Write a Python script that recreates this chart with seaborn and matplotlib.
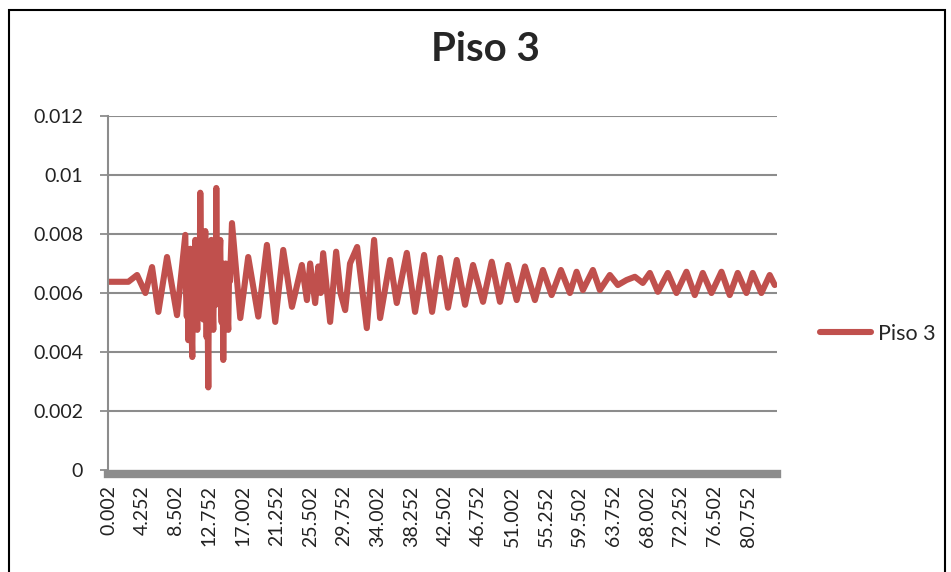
import pandas as pd
import numpy as np
import matplotlib.pyplot as plt
import seaborn as sns
from matplotlib.patches import Rectangle

# peaks and troughs (time s, displacement)
t = [0.0, 2.52, 3.62, 4.67, 5.51, 6.31, 7.40, 8.66, 9.71,
     9.80, 9.90, 10.00, 10.09, 10.16, 10.22, 10.34, 10.46, 10.59, 10.68, 10.78, 10.88, 10.97,
     11.04, 11.10, 11.22, 11.30, 11.40, 11.50, 11.60, 11.70, 11.80, 11.90, 11.98, 12.04,
     12.10, 12.23, 12.32, 12.40, 12.50, 12.61, 12.70, 12.80, 12.90, 12.99, 13.05, 13.10,
     13.24, 13.34, 13.45, 13.54, 13.62, 13.68, 13.75, 13.87, 13.94, 14.00, 14.12, 14.20,
     14.30, 14.40, 14.50, 14.60, 14.70, 14.80, 14.88, 15.00, 15.13, 15.25, 15.35, 15.60,
     16.65, 17.65, 18.92, 20.01, 21.06, 22.07, 23.17, 24.42, 25.06, 25.47,
     26.10, 26.50, 26.80, 27.11, 27.99, 28.75, 29.30, 29.89, 30.50, 31.40, 32.62, 33.54,
     34.30, 35.56, 36.40, 37.67, 38.71, 39.85, 40.86, 41.87, 42.87, 43.97, 45.02, 46.03,
     47.29, 48.39, 49.43, 50.44, 51.54, 52.58, 53.84, 54.85, 55.95, 57.12,
     58.26, 59.10, 59.90, 61.16, 62.04, 63.30, 64.31, 65.41, 66.46, 67.46,
     68.35, 69.36, 70.62, 71.71, 72.97, 74.02, 75.03, 76.13, 77.39, 78.43,
     79.44, 80.54, 81.33, 82.43, 83.48, 84.11]
piso3 = [0.00638, 0.00638, 0.00661, 0.00600, 0.00688, 0.00536, 0.00722, 0.00525, 0.00797,
         0.00600, 0.00520, 0.00720, 0.00440, 0.00620, 0.00700, 0.00750, 0.00520, 0.00383, 0.00650, 0.00560, 0.00720, 0.00780,
         0.00540, 0.00600, 0.00475, 0.00680, 0.00720, 0.00560, 0.00940, 0.00700, 0.00620, 0.00740, 0.00510, 0.00650,
         0.00700, 0.00810, 0.00600, 0.00450, 0.00620, 0.00280, 0.00700, 0.00560, 0.00720, 0.00780, 0.00540, 0.00620,
         0.00475, 0.00680, 0.00700, 0.00560, 0.00956, 0.00720, 0.00640, 0.00576, 0.00720, 0.00700, 0.00780, 0.00560,
         0.00500, 0.00700, 0.00373, 0.00680, 0.00560, 0.00700, 0.00644, 0.00540, 0.00475, 0.00700, 0.00640, 0.00837,
         0.00515, 0.00722, 0.00520, 0.00763, 0.00502, 0.00746, 0.00553, 0.00695, 0.00576, 0.00700,
         0.00566, 0.00690, 0.00600, 0.00735, 0.00502, 0.00740, 0.00600, 0.00542, 0.00700, 0.00756, 0.00481, 0.00780,
         0.00515, 0.00712, 0.00566, 0.00736, 0.00536, 0.00729, 0.00536, 0.00719, 0.00550, 0.00712, 0.00560, 0.00695,
         0.00570, 0.00706, 0.00570, 0.00695, 0.00576, 0.00690, 0.00576, 0.00678, 0.00593, 0.00678,
         0.00600, 0.00672, 0.00610, 0.00678, 0.00610, 0.00661, 0.00627, 0.00644, 0.00655, 0.00634,
         0.00668, 0.00604, 0.00668, 0.00600, 0.00672, 0.00593, 0.00668, 0.00600, 0.00672, 0.00593,
         0.00668, 0.00600, 0.00668, 0.00600, 0.00661, 0.00627]

xtick_vals = [0.002 + 4.25 * k for k in range(20)]
xtick_labels = ['0.002', '4.252', '8.502', '12.752', '17.002', '21.252', '25.502',
                '29.752', '34.002', '38.252', '42.502', '46.752', '51.002', '55.252',
                '59.502', '63.752', '68.002', '72.252', '76.502', '80.752']
ytick_vals = [0, 0.002, 0.004, 0.006, 0.008, 0.01, 0.012]
ytick_labels = ['0', '0.002', '0.004', '0.006', '0.008', '0.01', '0.012']

df = pd.DataFrame({'t': t, 'Piso 3': piso3})

sns.set_style('white')
plt.rcParams['font.family'] = ['Lato', 'DejaVu Sans']

fig = plt.figure(figsize=(9.51, 5.72), dpi=100)
ax = fig.add_axes([108 / 951, 1 - 470 / 572, (777 - 108) / 951, (470 - 116) / 572])

sns.lineplot(data=df, x='t', y='Piso 3', ax=ax, color='#C0504D', linewidth=4.4,
             label='Piso 3', solid_joinstyle='round', solid_capstyle='round')

# spines first: moving a spine resets the tick labels
for s in ['top', 'right']:
    ax.spines[s].set_visible(False)
ax.spines['left'].set_color('#8c8c8c')
ax.spines['left'].set_linewidth(1.5)
ax.spines['bottom'].set_color('#8c8c8c')
ax.spines['bottom'].set_linewidth(6)
ax.spines['bottom'].set_position(('outward', 3))

ax.set_xlim(-0.05, 84.4)
ax.set_ylim(0, 0.012)
ax.set_yticks(ytick_vals)
ax.set_yticklabels(ytick_labels, fontsize=14, color='#222222')
ax.set_xticks(xtick_vals)
ax.set_xticklabels(xtick_labels, rotation=90, fontsize=14, color='#222222')
ax.tick_params(axis='x', length=0, pad=8)
ax.tick_params(axis='y', length=6, width=1.3, color='#8c8c8c', pad=12, direction='out', left=True)
ax.set_xlabel('')
ax.set_ylabel('')

for v in ytick_vals[1:]:
    ax.axhline(v, color='#8c8c8c', linewidth=1.5, zorder=0)

ax.legend(loc='center left', bbox_to_anchor=(1.035, 0.385), frameon=False, fontsize=15.5,
          handlelength=2.4, handletextpad=0.3)

fig.suptitle('Piso 3', x=0.51, y=0.945, fontsize=29, fontweight='bold')

fig.patches.append(Rectangle((9 / 951, -0.05), (945 - 9) / 951, 1.05 - 10 / 572,
                             transform=fig.transFigure, fill=False, edgecolor='black',
                             linewidth=1.5))

fig.savefig('out.png', dpi=100)
